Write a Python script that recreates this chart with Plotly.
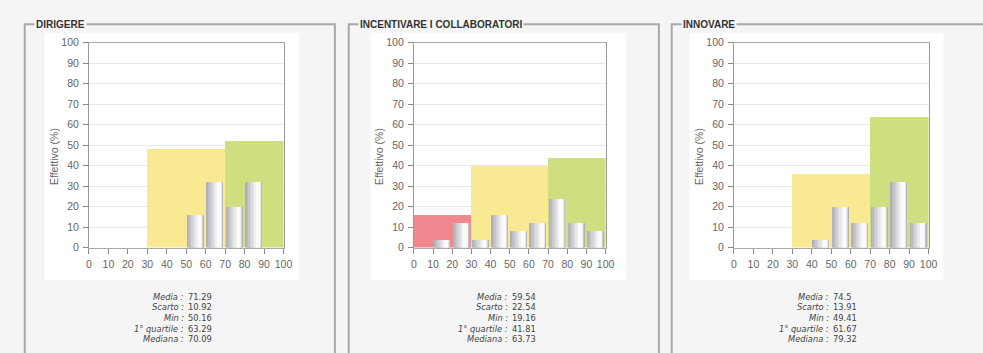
import plotly.graph_objects as go

# ---------------- data ----------------
panel_titles = ["DIRIGERE", "INCENTIVARE I COLLABORATORI", "INNOVARE"]
bin_starts = [0, 10, 20, 30, 40, 50, 60, 70, 80, 90]
dirigere = [0, 0, 0, 0, 0, 16, 32, 20, 32, 0]
incentivare = [0, 4, 12, 4, 16, 8, 12, 24, 12, 8]
innovare = [0, 0, 0, 0, 4, 20, 12, 20, 32, 12]
zone_starts = [0, 30, 70]
zone_widths = [30, 40, 30]
zones_dirigere = [0, 48, 52]
zones_incentivare = [16, 40, 44]
zones_innovare = [0, 36, 64]
stat_labels = ["Media :", "Scarto :", "Min :", "1° quartile :", "Mediana :"]
stats_dirigere = ["71.29", "10.92", "50.16", "63.29", "70.09"]
stats_incentivare = ["59.54", "22.54", "19.16", "41.81", "63.73"]
stats_innovare = ["74.5", "13.91", "49.41", "61.67", "79.32"]
x_ticks = [0, 10, 20, 30, 40, 50, 60, 70, 80, 90, 100]
y_ticks = [0, 10, 20, 30, 40, 50, 60, 70, 80, 90, 100]

values = [dirigere, incentivare, innovare]
zones = [zones_dirigere, zones_incentivare, zones_innovare]
stats = [stats_dirigere, stats_incentivare, stats_innovare]

# ---------------- layout geometry (pixels) ----------------
W, H = 983, 353
plot_left = [87, 416, 740]
plot_right = [284, 610, 937]
plot_top, plot_bottom = 38, 250
box_x = [(22, 336), (350, 664), (677, 1000)]
box_top = 19
white_rects = [(42, 300), (372, 631), (695, 952)]
zone_colors = ["#f0888f", "#fae993", "#cddf7e"]
bar_layers = [  # (offset, width, color) -> cylinder-like shading
    (0.2, 8.8, "#b0b0b8"),
    (1.0, 7.8, "#babac1"),
    (1.8, 6.8, "#c5c5cb"),
    (2.6, 5.8, "#d0d0d5"),
    (3.4, 4.9, "#dbdbdf"),
    (4.2, 4.0, "#e6e6e9"),
    (5.0, 3.0, "#f0f0f2"),
    (5.8, 2.0, "#fbfbfb"),
]

PAGE_BG = "#f5f5f5"
FONT = "Liberation Sans, Arial, sans-serif"
STAT_FONT = "DejaVu Sans, Verdana, sans-serif"


def px(x):
    return x / W


def py(y):
    return 1 - y / H


fig = go.Figure()
shapes = []
annotations = []

for i in range(3):
    sfx = "" if i == 0 else str(i + 1)
    xa, ya = "x" + sfx, "y" + sfx
    # zone background bars
    fig.add_trace(go.Bar(
        x=zone_starts, y=zones[i], width=zone_widths, offset=0,
        marker=dict(color=zone_colors, line=dict(width=0)),
        xaxis=xa, yaxis=ya, showlegend=False, hoverinfo="skip",
    ))
    # shaded histogram bars
    for off, wd, col in bar_layers:
        fig.add_trace(go.Bar(
            x=bin_starts, y=values[i], width=wd, offset=off,
            marker=dict(color=col, line=dict(width=0)),
            xaxis=xa, yaxis=ya, showlegend=False, hoverinfo="skip",
        ))

    dom_x = [px(plot_left[i]), px(plot_right[i])]
    dom_y = [py(plot_bottom), py(plot_top)]
    axis_common = dict(
        range=[0, 100], showline=True, mirror=True, linewidth=1,
        ticks="outside", ticklen=5, tickcolor="#888",
        tickfont=dict(family=FONT, size=10.5, color="#666"),
        zeroline=False, fixedrange=True, ticklabelstandoff=2,
    )
    fig.update_layout(**{
        "xaxis" + sfx: dict(axis_common, domain=dom_x, tickvals=x_ticks,
                            linecolor="#aaa", showgrid=False,
                            anchor=ya),
        "yaxis" + sfx: dict(axis_common, domain=dom_y, tickvals=y_ticks,
                            linecolor="#999", showgrid=True,
                            gridcolor="#e8e8e8", gridwidth=1,
                            anchor=xa),
    })

    # white chart image area
    wx0, wx1 = white_rects[i]
    shapes.append(dict(type="rect", xref="paper", yref="paper",
                       x0=px(wx0), x1=px(wx1), y0=py(284), y1=py(28),
                       fillcolor="#ffffff", line=dict(width=0), layer="below"))
    # group box
    bx0, bx1 = box_x[i]
    shapes.append(dict(type="rect", xref="paper", yref="paper",
                       x0=px(bx0), x1=px(bx1), y0=-0.2, y1=py(box_top),
                       line=dict(color="#a9a9a9", width=2), layer="below"))
    # group title
    annotations.append(dict(
        text="<b>" + panel_titles[i] + "</b>", xref="paper", yref="paper",
        x=px(bx0 + 9), y=py(box_top), xanchor="left", yanchor="middle",
        showarrow=False, bgcolor=PAGE_BG, borderpad=1,
        font=dict(family=FONT, size=10, color="#333"),
    ))
    # y axis title
    annotations.append(dict(
        text="Effettivo (%)", xref="paper", yref="paper",
        x=px(plot_left[i] - 36), y=py(156), textangle=-90,
        xanchor="center", yanchor="middle", showarrow=False,
        font=dict(family=FONT, size=10.5, color="#666"),
    ))
    # statistics
    cx = (plot_left[i] + plot_right[i]) / 2
    for k, lab in enumerate(stat_labels):
        yy = py(301 + 11 * k)
        annotations.append(dict(
            text="<i>" + lab + "</i>", xref="paper", yref="paper",
            x=px(cx - 1), y=yy, xanchor="right", yanchor="middle",
            showarrow=False, borderpad=0,
            font=dict(family=STAT_FONT, size=8.3, color="#444"),
        ))
        annotations.append(dict(
            text=stats[i][k], xref="paper", yref="paper",
            x=px(cx + 1), y=yy, xanchor="left", yanchor="middle",
            showarrow=False, borderpad=0,
            font=dict(family=STAT_FONT, size=8.3, color="#444"),
        ))

fig.update_layout(
    width=W, height=H, margin=dict(l=0, r=0, t=0, b=0),
    paper_bgcolor=PAGE_BG, plot_bgcolor="#ffffff",
    barmode="overlay", bargap=0, showlegend=False,
    shapes=shapes, annotations=annotations,
)

fig.write_html("out.html", config={"displayModeBar": False})
